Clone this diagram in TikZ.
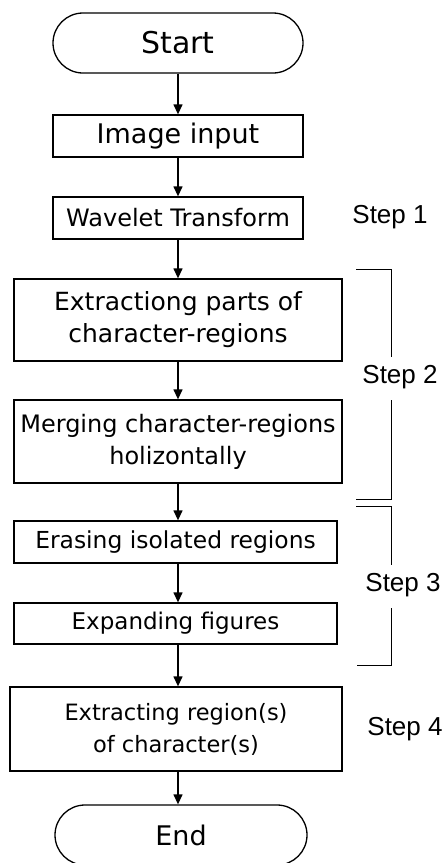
\documentclass[tikz,border=0pt]{standalone}
\usepackage{fontspec}
\setmainfont{Liberation Sans}
\newfontfamily\boxfont{DejaVu Sans}
\usetikzlibrary{arrows.meta}
\newcommand\bsize[1]{\boxfont\fontsize{#1}{32}\selectfont}

\begin{document}
\begin{tikzpicture}[x=1pt,y=-1pt,line width=1.3pt,
	term/.style={draw,rounded corners=30pt,minimum width=250pt,minimum height=60pt,font=\bsize{30}},
	proc/.style={draw,inner sep=0pt,align=center,font=\bsize{24}},
	steplbl/.style={inner sep=0pt,font=\fontsize{26}{30}\selectfont},
	flow/.style={-{Triangle[length=10pt,width=9pt]}}]
	
	\useasboundingbox (0,0) rectangle (443,863);
	
	% flow chart
	\node[term] (start) at (178,43) {Start};
	\node[proc,minimum width=250pt,minimum height=42pt,font=\bsize{27}] (img) at (178,136) {Image input};
	\node[proc,minimum width=250pt,minimum height=42pt] (wav) at (178,218) {Wavelet Transform};
	\node[proc,minimum width=328pt,minimum height=82pt,font=\bsize{25}] (ext) at (178,320) {Extractiong parts of\\character-regions};
	\node[proc,minimum width=328pt,minimum height=83pt] (mer) at (178,441.5) {Merging character-regions\\holizontally};
	\node[proc,minimum width=323pt,minimum height=42pt,font=\bsize{23.4}] (era) at (175.5,542) {Erasing isolated regions};
	\node[proc,minimum width=323pt,minimum height=41pt,font=\bsize{23}] (expd) at (175.5,623.5) {Expanding figures};
	\node[proc,minimum width=332pt,minimum height=84pt,font=\bsize{22.5}] (reg) at (176,729) {Extracting region(s)\\of character(s)};
	\node[term,minimum width=252pt,font=\bsize{27}] (end) at (181,835) {End};
	
	\draw[flow] (start) -- (img);
	\draw[flow] (img) -- (wav);
	\draw[flow] (wav) -- (ext);
	\draw[flow] (ext) -- (mer);
	\draw[flow] (mer.south) -- (era.north -| mer.south);
	\draw[flow] (era.south -| mer.south) -- (expd.north -| mer.south);
	\draw[flow] (expd.south -| mer.south) -- (reg.north -| mer.south);
	\draw[flow] (reg.south -| mer.south) -- (end.north -| mer.south);
	
	% steps
	\node[steplbl] (s1) at (390,217) {Step 1};
	\node[steplbl] (s2) at (400,377) {Step 2};
	\node[steplbl] (s3) at (403,585) {Step 3};
	\node[steplbl] (s4) at (405,729) {Step 4};
	
	\draw[line width=1pt] (356,269) -| (391,357);
	\draw[line width=1pt] (391,400) |- (356,499);
	\draw[line width=1pt] (356,506) -| (391,565);
	\draw[line width=1pt] (391,608) |- (357,665);
\end{tikzpicture}
\end{document}
